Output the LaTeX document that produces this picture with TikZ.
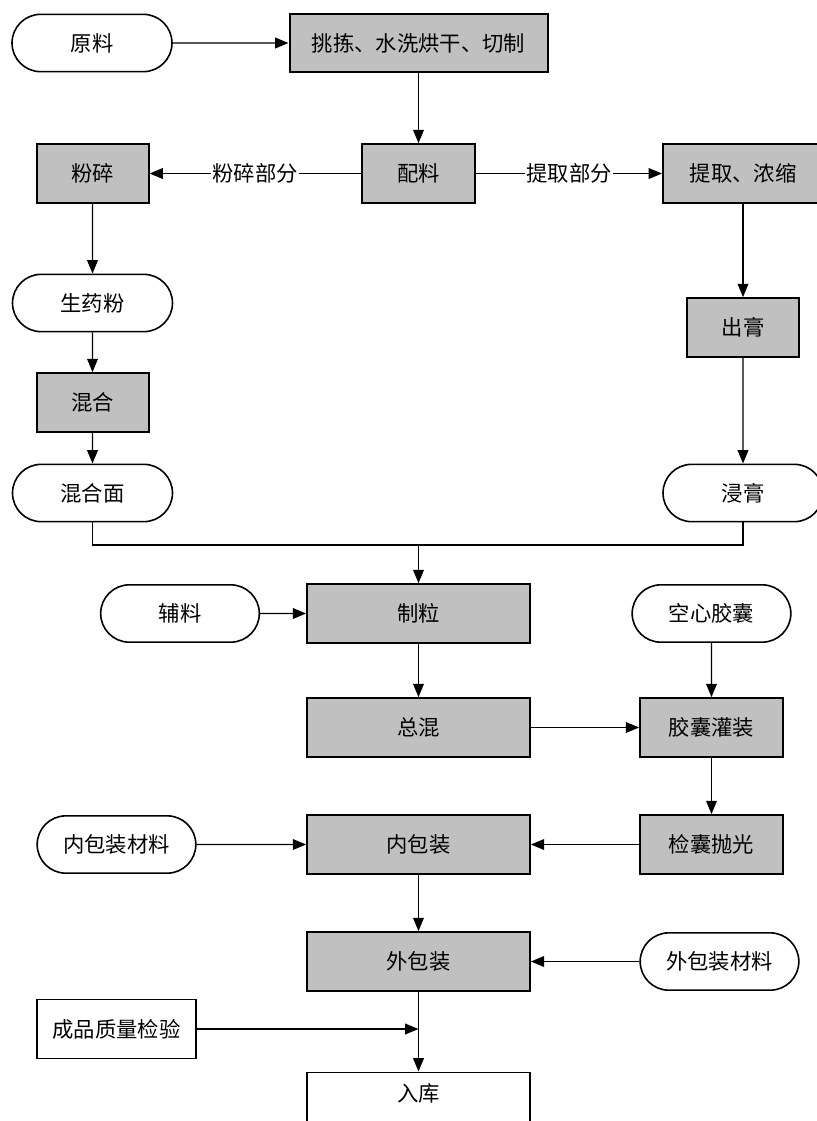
\documentclass[tikz,border=0pt]{standalone}
\usepackage{fontspec}
\setmainfont{Noto Sans CJK SC}
\usetikzlibrary{arrows.meta, shapes.misc}
\definecolor{boxgray}{RGB}{192,192,192}

\begin{document}
\begin{tikzpicture}[x=0.75pt,y=0.75pt,yscale=-1,xscale=1,
  every node/.style={font=\fontsize{16}{18}\selectfont},
  proc/.style={draw, line width=1.5pt, fill=boxgray, rectangle, minimum width=#1, minimum height=44pt, inner sep=0pt},
  plain/.style={draw, line width=1.2pt, fill=white, rectangle, minimum width=#1, minimum height=44pt, inner sep=0pt},
  term/.style={draw, line width=1.2pt, fill=white, rounded rectangle, minimum width=#1, minimum height=43pt, inner sep=0pt},
  flow/.style={line width=1.1pt, -{Triangle[length=10pt,width=8pt]}},
  lbl/.style={fill=white, inner sep=1pt}]
\fill[white] (0,0) rectangle (817,1121);
\useasboundingbox (0,0) rectangle (817,1121);

% top row
\node[term=120pt] (yl) at (92,43) {原料};
\node[proc=193.5pt] (tjxh) at (418.5,43) {挑拣、水洗烘干、切制};
\node[proc=85pt] (pl) at (418.5,173.5) {配料};
\node[proc=84pt] (fs) at (92.5,173.5) {粉碎};
\node[proc=120pt] (tqns) at (743,173.5) {提取、浓缩};

% left column
\node[term=120pt] (syf) at (92.5,303) {生药粉};
\node[proc=84pt] (hh) at (92.5,402.5) {混合};
\node[term=120pt] (hhm) at (92.5,493) {混合面};

% right column
\node[proc=84pt] (cg) at (743,327.5) {出膏};
\node[term=120pt] (jg) at (743,493) {浸膏};
\coordinate (hb) at (418.5,545);

% main column
\node[term=119pt] (fl) at (180,613.5) {辅料};
\node[proc=167pt] (zl) at (418.5,613.5) {制粒};
\node[term=119pt] (kxjn) at (711.5,613.5) {空心胶囊};
\node[proc=167pt] (zh) at (418.5,727.5) {总混};
\node[proc=107pt] (jngz) at (711.5,727.5) {胶囊灌装};
\node[term=119pt] (nbcl) at (116.5,844.5) {内包装材料};
\node[proc=167pt] (nbz) at (418.5,844.5) {内包装};
\node[proc=107pt] (jnpg) at (711.5,844.5) {检囊抛光};
\node[proc=167pt] (wbz) at (418.5,961.5) {外包装};
\node[term=119pt] (wbcl) at (719.5,961.5) {外包装材料};
\node[plain=119pt] (cpjy) at (116.5,1029) {成品质量检验};
\node[plain=167pt, minimum height=46pt, text depth=16pt] (rk) at (418.5,1103) {入库};

% connectors
\draw[flow] (yl) -- (tjxh);
\draw[flow] (tjxh) -- (pl);
\draw[flow] (pl) -- node[lbl] {粉碎部分} (fs);
\draw[flow] (pl) -- node[lbl] {提取部分} (tqns);
\draw[flow] (fs) -- (syf);
\draw[flow] (syf) -- (hh);
\draw[flow] (hh) -- (hhm);
\draw[flow] (tqns) -- (cg);
\draw[flow] (cg) -- (jg);
\draw[line width=1.1pt] (hhm.south) -- (hhm.south |- hb) -- (jg.south |- hb) -- (jg.south);
\draw[flow] (hb) -- (zl);
\draw[flow] (fl) -- (zl);
\draw[flow] (zl) -- (zh);
\draw[flow] (kxjn) -- (jngz);
\draw[flow] (zh) -- (jngz);
\draw[flow] (jngz) -- (jnpg);
\draw[flow] (jnpg) -- (nbz);
\draw[flow] (nbcl) -- (nbz);
\draw[flow] (nbz) -- (wbz);
\draw[flow] (wbcl) -- (wbz);
\draw[flow] (wbz) -- (rk);
\draw[flow] (cpjy.east) -- (cpjy.east -| wbz.south);

\end{tikzpicture}
\end{document}
